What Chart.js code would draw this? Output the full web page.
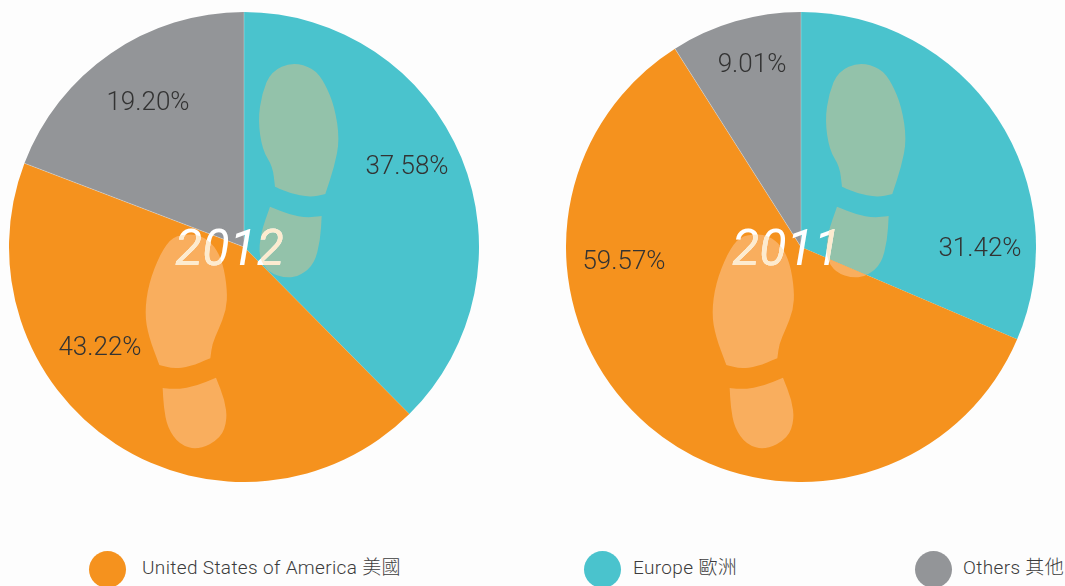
<!DOCTYPE html>
<html>
<head>
<meta charset="utf-8">
<script src="https://cdn.jsdelivr.net/npm/chart.js@4"></script>
<style>
html,body{margin:0;padding:0;background:#fdfdfd;overflow:hidden;width:1065px;height:586px}
canvas{position:absolute}
#c2012{left:9px;top:12px}
#c2011{left:566px;top:12px}
.sw{position:absolute;width:37px;height:37px;border-radius:50%;top:551px}
.lb{position:absolute;top:556px;font:300 19px/24px Roboto,"Noto Sans CJK TC",sans-serif;color:#3c3c3c;white-space:nowrap;letter-spacing:.35px}
</style>
</head>
<body>
<canvas id="c2012" width="470" height="470"></canvas>
<canvas id="c2011" width="470" height="470"></canvas>
<div id="legend"></div>
<script>
const categories = ["Europe 歐洲", "United States of America 美國", "Others 其他"];
const legendOrder = [1, 0, 2];
const years = ["2012", "2011"];
const values2012 = [37.58, 43.22, 19.20];
const values2011 = [31.42, 59.57, 9.01];
const colors = ["#4AC3CD", "#F5921E", "#939598"];
const shoeTints = ["#93C2AA", "#F9AE5E", "#A9A9A0"];

// label anchors relative to the pie centre, per chart
const labelAnchors2012 = [[163,-80],[-144,101],[-96,-144]];
const labelAnchors2011 = [[179,2],[-177,15],[-49,-182]];
const legendSwatchX = [89, 584, 915];
const legendTextX = [142, 633, 963];

// footprint outlines (decoration), relative to the pie centre of the 2012 pie
const z = p => p.map(([x,y]) => [x/3-114, y/3-197]);
const shoes = [
  z([[487,36],[552,56],[584,98],[614,170],[629,270],[613,350],[586,432],[586,432],[586,432],[540,442],[480,430],[435,410],[435,410],[435,410],[428,350],[397,300],[384,210],[396,130],[423,64]]),
  z([[420,470],[420,470],[420,470],[480,494],[530,503],[575,498],[575,498],[575,498],[571,570],[553,642],[512,676],[470,685],[416,668],[386,622],[392,550]]),
  z([[180,552],[128,560],[92,608],[56,700],[44,790],[56,860],[88,945],[88,945],[88,945],[130,956],[180,950],[241,925],[241,925],[241,925],[247,880],[265,840],[289,780],[292,720],[279,640],[253,586],[215,558]]),
  z([[98,1014],[98,1014],[98,1014],[140,1018],[200,1008],[258,983],[258,983],[258,983],[284,1050],[292,1108],[273,1165],[205,1200],[148,1184],[112,1132],[101,1070]])
];

function shoePath(ctx, pts, cx, cy, dx, add) {
  if (!add) ctx.beginPath();
  const n = pts.length;
  const P = i => { const q = pts[(i+n)%n]; return [cx+dx+q[0], cy+q[1]]; };
  const a = P(0), b = P(n-1);
  ctx.moveTo((a[0]+b[0])/2, (a[1]+b[1])/2);
  for (let i=0;i<n;i++){
    const c = P(i), d = P(i+1);
    ctx.quadraticCurveTo(c[0], c[1], (c[0]+d[0])/2, (c[1]+d[1])/2);
  }
  ctx.closePath();
}

function makePlugin(year, anchors, dx, textX) {
  return {
    id: "overlay" + year,
    afterDatasetsDraw(chart) {
      const ctx = chart.ctx;
      const arcs = chart.getDatasetMeta(0).data;
      const cx = arcs[0].x, cy = arcs[0].y, R = arcs[0].outerRadius;

      // hairlines around the grey slice
      const g = arcs[2];
      ctx.save();
      ctx.strokeStyle = "rgba(255,255,255,.4)";
      ctx.lineWidth = 0.7;
      ctx.beginPath();
      ctx.moveTo(cx + R*Math.cos(g.startAngle), cy + R*Math.sin(g.startAngle));
      ctx.lineTo(cx, cy);
      ctx.lineTo(cx + R*Math.cos(g.endAngle), cy + R*Math.sin(g.endAngle));
      ctx.stroke();
      ctx.restore();

      // footprints tinted by the slice beneath them
      arcs.forEach((a, i) => {
        ctx.save();
        ctx.beginPath();
        ctx.moveTo(cx, cy);
        ctx.arc(cx, cy, R, a.startAngle, a.endAngle);
        ctx.closePath();
        ctx.clip();
        ctx.fillStyle = shoeTints[i];
        shoes.forEach(s => { shoePath(ctx, s, cx, cy, dx); ctx.fill(); });
        ctx.restore();
      });

      // year, cream where it crosses a footprint
      const font = 'italic 400 50px Roboto, sans-serif';
      ctx.save();
      ctx.font = font;
      ctx.textAlign = "left";
      ctx.textBaseline = "alphabetic";
      ctx.fillStyle = "#ffffff";
      ctx.fillText(year, cx + textX, cy + 18);
      ctx.beginPath();
      shoes.forEach(s => shoePath(ctx, s, cx, cy, dx, true));
      ctx.clip();
      ctx.fillStyle = "#FDEBCF";
      ctx.fillText(year, cx + textX, cy + 18);
      ctx.restore();

      // percentages
      ctx.save();
      ctx.font = '300 26px Roboto, sans-serif';
      ctx.fillStyle = "#333333";
      ctx.textAlign = "center";
      ctx.textBaseline = "middle";
      chart.data.datasets[0].data.forEach((v, i) => {
        ctx.fillText(v.toFixed(2) + "%", cx + anchors[i][0], cy + anchors[i][1]);
      });
      ctx.restore();
    }
  };
}

function pie(id, values, plugin) {
  return new Chart(document.getElementById(id), {
    type: "pie",
    data: { labels: categories, datasets: [{ data: values, backgroundColor: colors, borderWidth: 0 }] },
    options: {
      responsive: false,
      animation: false,
      layout: { padding: 0 },
      plugins: { legend: { display: false }, tooltip: { enabled: false } }
    },
    plugins: [plugin]
  });
}

pie("c2012", values2012, makePlugin(years[0], labelAnchors2012, 0, -69));
pie("c2011", values2011, makePlugin(years[1], labelAnchors2011, 10, -69));

const legend = document.getElementById("legend");
legendOrder.forEach((c, i) => {
  const s = document.createElement("div");
  s.className = "sw"; s.style.left = legendSwatchX[i] + "px"; s.style.background = colors[c];
  const t = document.createElement("div");
  t.className = "lb"; t.style.left = legendTextX[i] + "px"; t.textContent = categories[c];
  legend.append(s, t);
});
</script>
</body>
</html>
